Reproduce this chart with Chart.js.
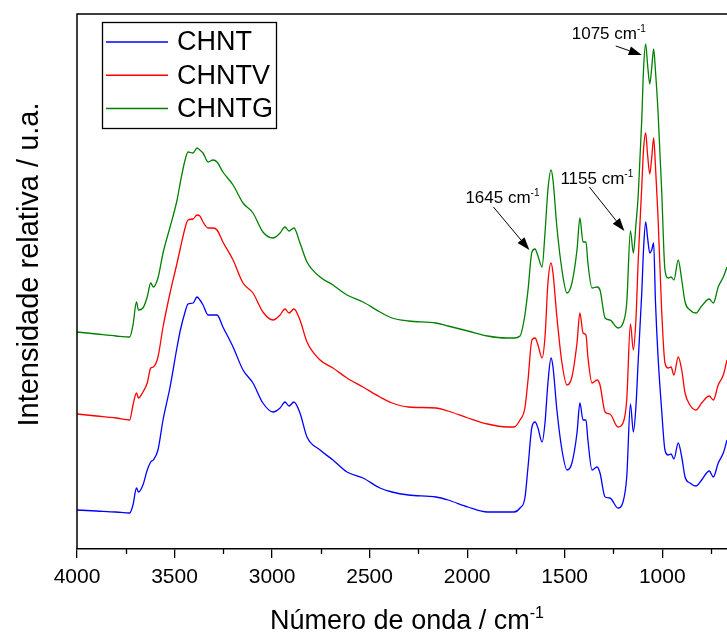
<!DOCTYPE html>
<html>
<head>
<meta charset="utf-8">
<script src="https://cdn.jsdelivr.net/npm/chart.js@4.4.1/dist/chart.umd.min.js"></script>
<style>
  body { margin: 0; background: #fff; }
</style>
</head>
<body>
<canvas id="ftir" width="727" height="633"></canvas>
<script>
// wavenumbers (cm-1) shared by the three spectra
var waveNumbers = [4000, 3900, 3800, 3730, 3713, 3695, 3685, 3662, 3640, 3622,
  3609, 3585, 3559, 3523, 3487, 3470, 3446, 3431, 3405, 3385,
  3370, 3354, 3328, 3303, 3282, 3252, 3200, 3149, 3098, 3047,
  2995, 2959, 2934, 2913, 2888, 2857, 2821, 2754, 2688, 2616,
  2534, 2447, 2385, 2301, 2160, 2098, 1996, 1896, 1796, 1760,
  1729, 1704, 1688, 1668, 1652, 1637, 1616, 1601, 1586, 1570,
  1560, 1540, 1514, 1488, 1463, 1437, 1422, 1406, 1391, 1381,
  1360, 1334, 1319, 1293, 1268, 1227, 1201, 1182, 1163, 1148,
  1135, 1123, 1105, 1096, 1085, 1075, 1064, 1054, 1044, 1035,
  1022, 1003, 986, 969, 955, 940, 918, 900, 883, 858,
  827, 798, 759, 738, 713, 687, 668];

// intensities (u.a.), already offset as in the figure
var chnt = [0.195, 0.19, 0.185, 0.18, 0.22, 0.305, 0.285, 0.32, 0.395, 0.435,
  0.445, 0.495, 0.645, 0.81, 1.01, 1.095, 1.185, 1.225, 1.23, 1.26,
  1.245, 1.22, 1.17, 1.17, 1.17, 1.11, 1.01, 0.895, 0.83, 0.73,
  0.685, 0.705, 0.735, 0.715, 0.735, 0.68, 0.56, 0.495, 0.445, 0.385,
  0.355, 0.305, 0.285, 0.27, 0.26, 0.245, 0.21, 0.185, 0.185, 0.185,
  0.205, 0.255, 0.41, 0.61, 0.635, 0.605, 0.535, 0.63, 0.83, 0.955,
  0.91, 0.695, 0.495, 0.395, 0.43, 0.58, 0.73, 0.645, 0.645, 0.545,
  0.395, 0.41, 0.38, 0.26, 0.255, 0.205, 0.235, 0.36, 0.725, 0.585,
  0.71, 0.945, 1.28, 1.495, 1.635, 1.555, 1.48, 1.495, 1.53, 1.245,
  0.97, 0.695, 0.495, 0.47, 0.475, 0.45, 0.53, 0.46, 0.36, 0.33,
  0.315, 0.345, 0.39, 0.36, 0.43, 0.48, 0.545];

var chntv = [0.675, 0.665, 0.655, 0.645, 0.72, 0.78, 0.755, 0.785, 0.83, 0.905,
  0.91, 0.96, 1.11, 1.28, 1.43, 1.505, 1.605, 1.645, 1.65, 1.67,
  1.665, 1.635, 1.605, 1.605, 1.595, 1.535, 1.445, 1.33, 1.28, 1.185,
  1.145, 1.17, 1.2, 1.18, 1.2, 1.145, 1.035, 0.945, 0.905, 0.855,
  0.81, 0.76, 0.73, 0.71, 0.705, 0.69, 0.655, 0.625, 0.61, 0.61,
  0.645, 0.705, 0.845, 1.045, 1.055, 1.02, 0.955, 1.06, 1.33, 1.43,
  1.38, 1.16, 0.93, 0.82, 0.86, 1.03, 1.18, 1.08, 1.07, 0.96,
  0.83, 0.845, 0.82, 0.685, 0.675, 0.61, 0.63, 0.745, 1.125, 0.995,
  1.145, 1.445, 1.81, 1.995, 2.08, 1.97, 1.875, 1.955, 2.055, 1.92,
  1.67, 1.195, 0.93, 0.905, 0.91, 0.87, 0.96, 0.895, 0.78, 0.72,
  0.695, 0.73, 0.765, 0.745, 0.82, 0.87, 0.945];

var chntg = [1.085, 1.075, 1.065, 1.06, 1.12, 1.235, 1.195, 1.205, 1.26, 1.33,
  1.31, 1.355, 1.48, 1.61, 1.745, 1.835, 1.945, 1.985, 1.98, 2.005,
  1.995, 1.98, 1.935, 1.945, 1.935, 1.885, 1.82, 1.73, 1.68, 1.585,
  1.555, 1.58, 1.61, 1.59, 1.605, 1.53, 1.435, 1.36, 1.32, 1.27,
  1.235, 1.185, 1.155, 1.14, 1.13, 1.115, 1.09, 1.065, 1.055, 1.055,
  1.065, 1.17, 1.295, 1.485, 1.5, 1.465, 1.41, 1.58, 1.795, 1.895,
  1.845, 1.61, 1.395, 1.28, 1.33, 1.495, 1.655, 1.535, 1.535, 1.43,
  1.305, 1.31, 1.295, 1.155, 1.145, 1.105, 1.13, 1.23, 1.59, 1.48,
  1.62, 1.77, 2.145, 2.395, 2.525, 2.42, 2.325, 2.405, 2.5, 2.395,
  2.195, 1.795, 1.395, 1.355, 1.36, 1.345, 1.445, 1.345, 1.235, 1.195,
  1.18, 1.215, 1.25, 1.23, 1.31, 1.36, 1.41];

var seriesNames = ['CHNT', 'CHNTV', 'CHNTG'];
var seriesColors = ['#0000ff', '#ff0000', '#008000'];

var xTicks = [4000, 3500, 3000, 2500, 2000, 1500, 1000];
var xMinorTicks = [3750, 3250, 2750, 2250, 1750, 1250, 750];

// peak labels: arrow tip in data units, tail / text offsets in px
var peakLabels = [
  { text: '1645 cm', wn: 1681, y: 1.495, dx: -36, dy: -43, tx: -64, ty: -47 },
  { text: '1155 cm', wn: 1194, y: 1.59, dx: -35, dy: -44, tx: -64, ty: -47 },
  { text: '1075 cm', wn: 1105, y: 2.47, dx: -26, dy: -9, tx: -70, ty: -16 }
];

var fam = '"Liberation Sans", Arial, sans-serif';

function supText(ctx, x, y, base, sup, size, supSize, rise) {
  ctx.font = size + 'px ' + fam;
  ctx.fillText(base, x, y);
  var w = ctx.measureText(base).width;
  ctx.font = supSize + 'px ' + fam;
  ctx.fillText(sup, x + w, y - rise);
}

function supWidth(ctx, base, sup, size, supSize) {
  ctx.font = size + 'px ' + fam;
  var w = ctx.measureText(base).width;
  ctx.font = supSize + 'px ' + fam;
  return w + ctx.measureText(sup).width;
}

var extras = {
  id: 'extras',
  afterDraw: function(chart) {
    var ctx = chart.ctx, a = chart.chartArea;
    var xs = chart.scales.x, ys = chart.scales.y;
    ctx.save();
    ctx.strokeStyle = '#000';
    ctx.fillStyle = '#000';

    // left and top frame lines
    ctx.lineWidth = 1.5;
    ctx.beginPath();
    ctx.moveTo(a.left, a.bottom);
    ctx.lineTo(a.left, a.top);
    ctx.lineTo(a.right, a.top);
    ctx.stroke();

    // minor ticks
    ctx.lineWidth = 1.3;
    xMinorTicks.forEach(function(v) {
      var px = Math.round(xs.getPixelForValue(v)) + 0.5;
      ctx.beginPath();
      ctx.moveTo(px, a.bottom);
      ctx.lineTo(px, a.bottom + 5);
      ctx.stroke();
    });

    // legend box
    var lx = a.left + 25, ly = a.top + 8;
    ctx.fillStyle = '#fff';
    ctx.fillRect(lx, ly, 174, 106);
    ctx.lineWidth = 1.3;
    ctx.strokeStyle = '#000';
    ctx.strokeRect(lx + 0.5, ly + 0.5, 174, 106);
    ctx.font = '27px ' + fam;
    ctx.textBaseline = 'middle';
    ctx.textAlign = 'left';
    chart.data.datasets.forEach(function(ds, i) {
      var ry = ly + 20 + i * 33.3;
      ctx.strokeStyle = ds.borderColor;
      ctx.lineWidth = 1.5;
      ctx.beginPath();
      ctx.moveTo(lx + 4, ry);
      ctx.lineTo(lx + 66, ry);
      ctx.stroke();
      ctx.fillStyle = '#000';
      ctx.fillText(ds.label, lx + 75, ry + 1);
    });

    // peak annotations
    ctx.textBaseline = 'alphabetic';
    peakLabels.forEach(function(p) {
      var tx = xs.getPixelForValue(p.wn), ty = ys.getPixelForValue(p.y);
      var sx = tx + p.dx, sy = ty + p.dy;
      var ang = Math.atan2(ty - sy, tx - sx);
      var L = 13, W = 4.5;
      var bx = tx - L * Math.cos(ang), by = ty - L * Math.sin(ang);
      ctx.strokeStyle = '#000';
      ctx.lineWidth = 1;
      ctx.beginPath();
      ctx.moveTo(sx, sy);
      ctx.lineTo(bx, by);
      ctx.stroke();
      ctx.fillStyle = '#000';
      ctx.beginPath();
      ctx.moveTo(tx, ty);
      ctx.lineTo(bx + W * Math.sin(ang), by - W * Math.cos(ang));
      ctx.lineTo(bx - W * Math.sin(ang), by + W * Math.cos(ang));
      ctx.closePath();
      ctx.fill();
      supText(ctx, tx + p.tx, ty + p.ty, p.text, '-1', 17, 10, 7);
    });

    // x axis title
    ctx.fillStyle = '#000';
    var tw = supWidth(ctx, 'Número de onda / cm', '-1', 27, 16);
    var cx = (a.left + a.right) / 2 + 5;
    supText(ctx, cx - tw / 2, 629, 'Número de onda / cm', '-1', 27, 16, 11);

    // y axis title
    ctx.translate(38, (a.top + a.bottom) / 2 - 17);
    ctx.rotate(-Math.PI / 2);
    ctx.textAlign = 'center';
    ctx.font = '29px ' + fam;
    ctx.fillText('Intensidade relativa / u.a.', 0, 0);
    ctx.restore();
  }
};

function series(vals) {
  return waveNumbers.map(function(w, i) { return { x: w, y: vals[i] }; });
}

var allSeries = [chnt, chntv, chntg];

new Chart(document.getElementById('ftir'), {
  type: 'line',
  data: {
    datasets: allSeries.map(function(vals, i) {
      return {
        label: seriesNames[i],
        data: series(vals),
        borderColor: seriesColors[i],
        backgroundColor: seriesColors[i],
        borderWidth: 1.3,
        pointRadius: 0,
        fill: false,
        cubicInterpolationMode: 'monotone'
      };
    })
  },
  options: {
    responsive: false,
    animation: false,
    layout: { padding: { left: 77, top: 14, right: 0, bottom: 0 } },
    plugins: {
      legend: { display: false },
      tooltip: { enabled: false }
    },
    scales: {
      x: {
        type: 'linear',
        reverse: true,
        min: 668,
        max: 4000,
        afterBuildTicks: function(s) {
          s.ticks = xTicks.map(function(v) { return { value: v }; });
        },
        afterFit: function(s) { s.height = 84; },
        grid: { drawOnChartArea: false, drawTicks: true, tickLength: 9, color: '#000', lineWidth: 1.3 },
        border: { display: true, color: '#000', width: 1.5 },
        ticks: {
          color: '#000',
          font: { family: fam, size: 21 },
          padding: 7,
          maxRotation: 0,
          autoSkip: false,
          callback: function(v) { return String(v); }
        }
      },
      y: { display: false, min: 0, max: 2.675 }
    }
  },
  plugins: [extras]
});
</script>
</body>
</html>
